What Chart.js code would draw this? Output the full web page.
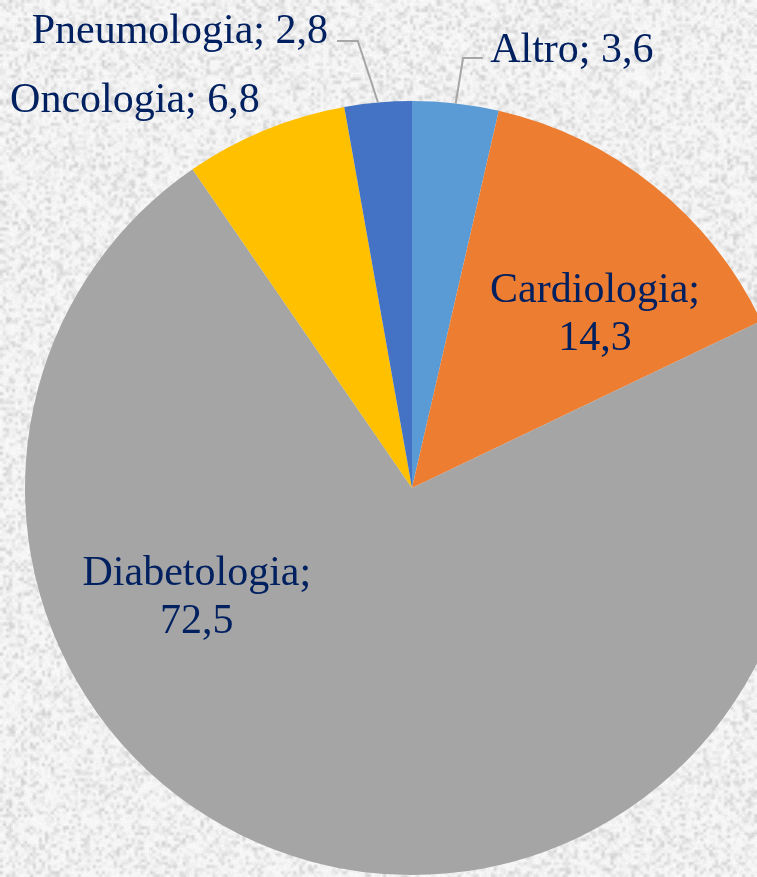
<!DOCTYPE html>
<html>
<head>
<meta charset="utf-8">
<script src="https://cdn.jsdelivr.net/npm/chart.js@4.4.1/dist/chart.umd.min.js"></script>
<style>
    html, body {
        margin: 0;
        padding: 0;
        width: 757px;
        height: 877px;
        overflow: hidden;
        background: #ececec;
        font-family: "Liberation Serif", serif;
    }
    #wrap {
        position: absolute;
        left: 0;
        top: 0;
        width: 824px;
        height: 976px;
    }
</style>
</head>
<body>
<div id="wrap"><canvas id="pieChart"></canvas></div>
<script>
// Chart data
const categories = ['Altro', 'Cardiologia', 'Diabetologia', 'Oncologia', 'Pneumologia'];
const values = [3.6, 14.3, 72.5, 6.8, 2.8];
const sliceColors = ['#5B9BD5', '#ED7D31', '#A5A5A5', '#FFC000', '#4472C4'];

// Label layout, in fractions of the pie radius, relative to the centre
const labelLayout = [
    { x: 0.413, y: -1.101, lines: 1, leader: [[0.183, -1.111], [0.132, -1.111]] },
    { x: 0.473, y: -0.481, lines: 2 },
    { x: -0.556, y: 0.251, lines: 2 },
    { x: -0.716, y: -0.972, lines: 1 },
    { x: -0.600, y: -1.150, lines: 1, leader: [[-0.194, -1.155], [-0.140, -1.155]] }
];

const labelFont = '42px "Liberation Serif", "DejaVu Serif", serif';

// Granite-like background texture (seeded so it is stable)
function makeTexture() {
    let seed = 12345;
    function rnd() {
        seed = (seed * 1103515245 + 12345) & 0x7fffffff;
        return seed / 0x7fffffff;
    }
    const w = 757, h = 877;
    const small = document.createElement('canvas');
    small.width = Math.ceil(w / 3);
    small.height = Math.ceil(h / 3);
    const sctx = small.getContext('2d');
    const img = sctx.createImageData(small.width, small.height);
    for (let i = 0; i < img.data.length; i += 4) {
        const r = rnd();
        const v = Math.round(248 - Math.pow(r, 3) * 40);
        img.data[i] = v;
        img.data[i + 1] = v;
        img.data[i + 2] = v;
        img.data[i + 3] = 255;
    }
    sctx.putImageData(img, 0, 0);

    const big = document.createElement('canvas');
    big.width = w;
    big.height = h;
    const bctx = big.getContext('2d');
    bctx.imageSmoothingEnabled = true;
    bctx.drawImage(small, 0, 0, w, h);
    const fine = bctx.getImageData(0, 0, w, h);
    for (let i = 0; i < fine.data.length; i += 4) {
        const d = (rnd() - 0.5) * 8;
        fine.data[i] = Math.max(0, Math.min(255, fine.data[i] + d));
        fine.data[i + 1] = Math.max(0, Math.min(255, fine.data[i + 1] + d));
        fine.data[i + 2] = Math.max(0, Math.min(255, fine.data[i + 2] + d));
    }
    bctx.putImageData(fine, 0, 0);
    document.body.style.background = 'url(' + big.toDataURL() + ')';
}
makeTexture();

function fmt(v) {
    return v.toFixed(1).replace('.', ',');
}

// Draws the data labels and leader lines
const pieLabels = {
    id: 'pieLabels',
    afterDatasetsDraw(chart) {
        const ctx = chart.ctx;
        const meta = chart.getDatasetMeta(0);
        ctx.save();
        ctx.font = labelFont;
        ctx.fillStyle = '#002060';
        ctx.textAlign = 'center';
        ctx.textBaseline = 'alphabetic';
        meta.data.forEach(function(arc, i) {
            const R = arc.outerRadius;
            const cx = arc.x, cy = arc.y;
            const lay = labelLayout[i];
            const text = categories[i] + ';';
            const val = fmt(values[i]);
            if (lay.leader) {
                const mid = (arc.startAngle + arc.endAngle) / 2;
                ctx.strokeStyle = '#A6A6A6';
                ctx.lineWidth = 2;
                ctx.beginPath();
                ctx.moveTo(cx + lay.leader[0][0] * R, cy + lay.leader[0][1] * R);
                ctx.lineTo(cx + lay.leader[1][0] * R, cy + lay.leader[1][1] * R);
                ctx.lineTo(cx + Math.cos(mid) * R, cy + Math.sin(mid) * R);
                ctx.stroke();
            }
            const x = cx + lay.x * R;
            const y = cy + lay.y * R;
            if (lay.lines === 2) {
                ctx.fillText(text, x, y);
                ctx.fillText(val, x, y + 48);
            } else {
                ctx.fillText(text + ' ' + val, x, y);
            }
        });
        ctx.restore();
    }
};

function initPieChart() {
    const ctx = document.getElementById('pieChart').getContext('2d');
    new Chart(ctx, {
        type: 'pie',
        data: {
            labels: categories,
            datasets: [{
                data: values,
                backgroundColor: sliceColors,
                borderWidth: 0
            }]
        },
        options: {
            responsive: true,
            maintainAspectRatio: false,
            animation: false,
            layout: {
                padding: { left: 25, right: 25, top: 101, bottom: 101 }
            },
            plugins: {
                legend: { display: false },
                tooltip: { enabled: false }
            }
        },
        plugins: [pieLabels]
    });
}

// Wait for the serif font so the canvas text uses it
document.fonts.load(labelFont).then(initPieChart, initPieChart);
</script>
</body>
</html>
